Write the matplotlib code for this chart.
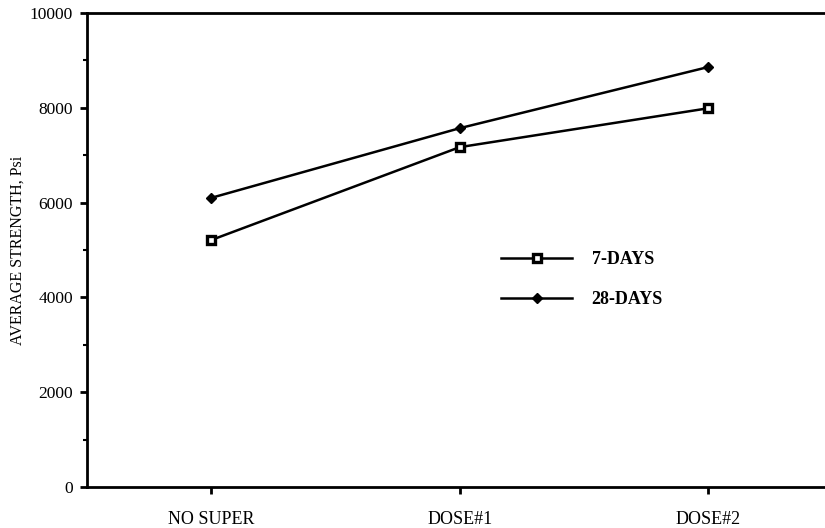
import matplotlib
matplotlib.use("Agg")
import matplotlib.pyplot as plt
from matplotlib.ticker import MultipleLocator

plt.rcParams['font.family'] = ['Liberation Serif', 'DejaVu Serif']

# === Data ===
categories = ["NO SUPER", "DOSE#1", "DOSE#2"]
days7 = [5210, 7170, 7990]
days28 = [6100, 7570, 8860]
yticks = [0, 2000, 4000, 6000, 8000, 10000]

fig = plt.figure(figsize=(8.25, 5.28), dpi=100)
ax = fig.add_axes([87 / 825, 1 - 487 / 528, 1 - 87 / 825 + 0.003, (487 - 13) / 528])

x = list(range(len(categories)))
ax.plot(x, days7, color='black', lw=1.8, marker='s', ms=5.5,
        mfc='white', mec='black', mew=2.4, label='7-DAYS')
ax.plot(x, days28, color='black', lw=1.8, marker='D', ms=5.5,
        mfc='black', mec='black', label='28-DAYS')

ax.set_xlim(-0.5, 2.48)
ax.set_ylim(0, 10000)
ax.set_xticks(x)
ax.set_xticklabels(categories, fontsize=13)
ax.set_yticks(yticks)
ax.set_yticklabels([str(v) for v in yticks], fontsize=12.5)
ax.yaxis.set_minor_locator(MultipleLocator(1000))
ax.set_ylabel("AVERAGE STRENGTH, Psi", fontsize=11.5, labelpad=3)

for side in ['left', 'bottom', 'top']:
    ax.spines[side].set_linewidth(2)
ax.spines['right'].set_visible(False)
ax.tick_params(axis='both', which='major', direction='out', length=5, width=2, pad=5)
ax.tick_params(axis='y', which='minor', direction='out', length=3, width=1.5)
ax.xaxis.set_tick_params(pad=12)

leg = ax.legend(loc='upper left', bbox_to_anchor=((500 - 87) / 738, (487 - 251) / 474),
                frameon=False, handlelength=3.9, handletextpad=1.1, labelspacing=1.3,
                prop={'family': 'Liberation Serif', 'weight': 'bold', 'size': 13},
                borderaxespad=0, borderpad=0)

fig.savefig("out.png", dpi=100)
